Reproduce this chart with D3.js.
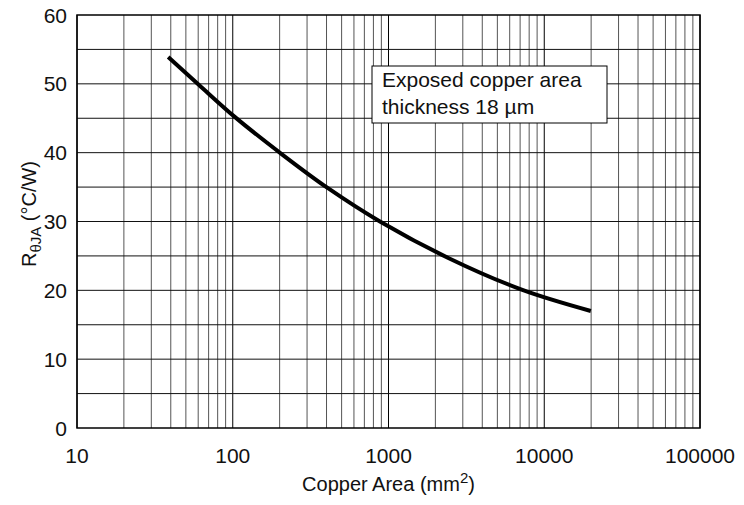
<!DOCTYPE html>
<html lang="en">
  <head>
    <meta charset="UTF-8" />
    <title>Thermal resistance vs copper area</title>
    <script src="https://d3js.org/d3.v7.min.js"></script>
    <style>
      body { margin: 0; background: #fff; }
      text { font-family: "Liberation Sans", Arial, sans-serif; fill: #111; }
    </style>
  </head>
  <body>
    <div id="chart"></div>
    <script>
      // curve (mm², °C/W)
      const area = [38.5, 61, 103, 206, 411, 881, 2420, 7160, 19900];
      const rth = [53.9, 49.8, 45.2, 39.8, 34.8, 30.0, 24.7, 20.1, 17.0];
      const xTicks = [10, 100, 1000, 10000, 100000];
      const yTicks = [0, 10, 20, 30, 40, 50, 60];
      const legendLines = ["Exposed copper area", "thickness 18 µm"];

      const width = 744, height = 505;
      const margin = { top: 15, right: 44, bottom: 77, left: 77 };

      const svg = d3.select("#chart").append("svg")
        .attr("width", width).attr("height", height);

      const x = d3.scaleLog().domain([10, 100000]).range([margin.left, width - margin.right]);
      const y = d3.scaleLinear().domain([0, 60]).range([height - margin.bottom, margin.top]);

      // grid
      const minor = [];
      for (let d = 10; d < 100000; d *= 10) {
        for (let k = 2; k <= 9; k++) minor.push(d * k);
      }
      svg.append("g").selectAll("line").data(minor).join("line")
        .attr("x1", d => x(d)).attr("x2", d => x(d))
        .attr("y1", y(0)).attr("y2", y(60))
        .attr("stroke", "#555").attr("stroke-width", 1);
      svg.append("g").selectAll("line").data(xTicks).join("line")
        .attr("x1", d => x(d)).attr("x2", d => x(d))
        .attr("y1", y(0)).attr("y2", y(60))
        .attr("stroke", "#000").attr("stroke-width", 1);
      svg.append("g").selectAll("line").data(d3.range(5, 60, 5)).join("line")
        .attr("x1", x(10)).attr("x2", x(100000))
        .attr("y1", d => y(d)).attr("y2", d => y(d))
        .attr("stroke", "#111").attr("stroke-width", 1);

      // frame
      svg.append("rect")
        .attr("x", x(10)).attr("y", y(60))
        .attr("width", x(100000) - x(10)).attr("height", y(0) - y(60))
        .attr("fill", "none").attr("stroke", "#000").attr("stroke-width", 1.5);

      // tick labels
      svg.append("g").selectAll("text").data(xTicks).join("text")
        .attr("x", d => x(d)).attr("y", y(0) + 35)
        .attr("text-anchor", "middle").attr("font-size", 21)
        .text(d => d);
      svg.append("g").selectAll("text").data(yTicks).join("text")
        .attr("x", x(10) - 10).attr("y", d => y(d) + 7.5)
        .attr("text-anchor", "end").attr("font-size", 21)
        .text(d => d);

      // axis titles
      const xt = svg.append("text")
        .attr("x", (x(10) + x(100000)) / 2).attr("y", 491)
        .attr("text-anchor", "middle").attr("font-size", 20);
      xt.append("tspan").text("Copper Area (mm");
      xt.append("tspan").attr("dy", -8).attr("font-size", 15).text("2");
      xt.append("tspan").attr("dy", 8).text(")");

      const yt = svg.append("text")
        .attr("transform", "translate(36,214) rotate(-90)")
        .attr("text-anchor", "middle").attr("font-size", 20);
      yt.append("tspan").text("R");
      yt.append("tspan").attr("dy", 5).attr("font-size", 15).text("θJA");
      yt.append("tspan").attr("dy", -5).text(" (°C/W)");

      // curve
      const pts = area.map((a, i) => [a, rth[i]]);
      const line = d3.line().x(d => x(d[0])).y(d => y(d[1])).curve(d3.curveCatmullRom.alpha(0.5));
      svg.append("path").datum(pts)
        .attr("d", line).attr("fill", "none")
        .attr("stroke", "#000").attr("stroke-width", 4);

      // note box
      const bx = 372, by = 66;
      svg.append("rect")
        .attr("x", bx).attr("y", by).attr("width", 235).attr("height", 57)
        .attr("fill", "#fff").attr("stroke", "#000").attr("stroke-width", 1);
      svg.append("g").selectAll("text").data(legendLines).join("text")
        .attr("x", bx + 10).attr("y", (d, i) => by + 21 + i * 27)
        .attr("font-size", 21)
        .text(d => d);
    </script>
  </body>
</html>
